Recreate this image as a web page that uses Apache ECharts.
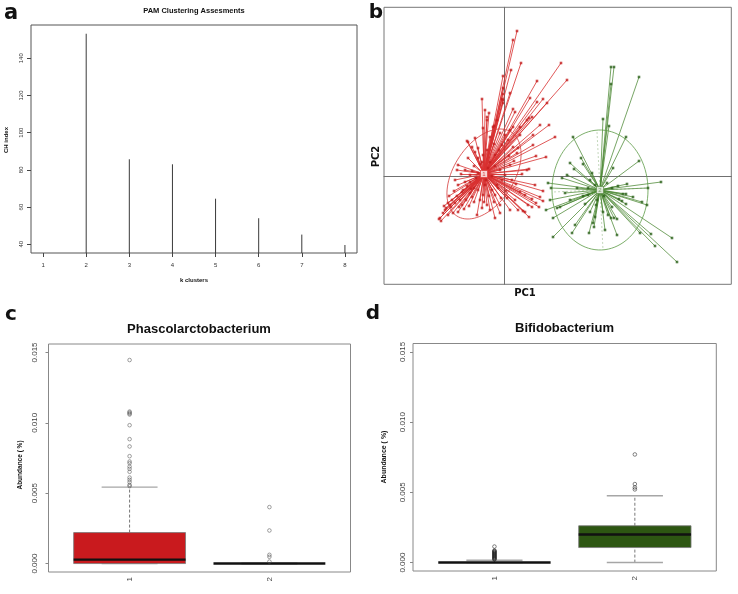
<!DOCTYPE html>
<html><head><meta charset="utf-8">
<script src="https://cdn.jsdelivr.net/npm/echarts@6/dist/echarts.min.js"></script>
<style>html,body{margin:0;padding:0;background:#fff}#c{width:738px;height:594px}</style>
</head><body><div id="c"></div>
<script>
// ---------- Panel a: PAM clustering assessment ----------
const kClusters = [1, 2, 3, 4, 5, 6, 7, 8];
const chIndex = [null, 153.2, 85.7, 83.0, 64.5, 54.0, 45.2, 39.6];
const aYTicks = [40, 60, 80, 100, 120, 140];

// ---------- Panel b: cluster plot (PC1 / PC2) ----------
const redCenter = [-2.0, 0.2];
const greenCenter = [9.6, -1.4];
const redPoints = [[1.3,14.5],[0.9,13.6],[1.7,11.3],[0.7,10.6],[5.7,11.3],[6.3,9.6],[3.3,9.5],[-0.1,10.0],[-0.1,8.8],[0.6,8.3],[2.6,7.8],[3.9,7.7],[3.3,7.4],[4.3,7.3],[-2.2,7.7],[-0.2,7.7],[0.9,6.7],[1.1,6.4],[-1.9,6.6],[-1.5,6.3],[2.5,5.8],[-0.1,7.3],[4.5,5.1],[5.1,3.9],[3.2,2.0],[2.5,0.7],[3.9,-2.5],[3.5,-3.1],[2.5,-4.1],[1.9,-3.5],[-6.5,-4.3],[-6.3,-4.5],[-0.1,8.2],[4.2,1.9],[3.1,-0.9],[3.9,-1.5],[3.6,-2.1],[2.3,0.6],[-3.7,3.5],[-4.7,0.6],[-4.9,-0.4],[-5.6,-2.7],[-6.4,-4.2],[-6.1,-3.7],[-5.1,-3.7],[-4.6,-3.6],[-2.7,-3.9],[-1.4,-3.4],[-0.4,-2.9],[0.3,-2.2],[1.4,-3.4],[2.1,-3.6],[2.8,-3.1],[0.9,4.9],[0.1,4.1],[1.4,2.8],[-2.9,3.8],[-2.6,2.8],[-3.6,1.8],[-4.6,1.1],[-3.9,-0.6],[-4.2,-1.6],[-3.2,-2.1],[-2.1,-1.9],[-1.2,-1.4],[-0.7,-0.9],[0.8,-0.4],[1.6,-1.6],[-1.4,1.4],[-0.9,2.1],[-0.2,3.1],[-1.7,2.6],[-2.2,1.4],[0.6,1.1],[0.1,0.1],[-5.9,-3.4],[-5.4,-2.9],[-5.2,-2.4],[-4.7,-2.0],[-4.4,-2.4],[-4.1,-1.4],[-3.7,-1.0],[-3.4,-0.6],[-5.6,-3.9],[-4.2,-2.9],[-3.8,-2.4],[-3.4,-1.7],[-3.0,-1.2],[-2.8,-0.2],[-3.4,0.1],[-3.9,0.6],[-3.0,1.0],[-2.6,1.8],[-2.1,2.1],[-1.6,0.8],[-1.2,0.0],[-1.9,-0.9],[-2.6,-1.4],[-2.4,-2.4],[-1.7,-2.9],[-0.9,-1.9],[-0.6,-1.2],[-0.2,-0.4],[-0.4,0.6],[-0.9,1.0],[2.3,5.6],[1.6,4.9],[-0.7,5.6],[-1.1,4.9],[-1.4,3.9],[-0.4,4.3],[0.4,3.6],[0.9,2.9],[1.3,2.3],[-3.2,2.9],[-3.6,3.4],[-2.9,2.4],[-2.1,4.8],[-1.7,5.9],[2.9,3.1],[2.1,-1.9],[2.8,-2.3],[3.2,-2.7],[2.4,-2.9],[1.1,-2.4],[0.6,-3.4],[-0.4,-3.7],[-0.9,-4.2],[-4.6,-0.9],[-5.0,-1.5],[-5.5,-2.0],[-6.0,-3.0],[-5.8,-3.2],[-5.3,-3.1],[-4.9,-2.7],[-4.5,-3.1],[-4.0,-3.3],[-3.5,-3.0],[-3.0,-2.6],[-2.2,-3.2],[-1.0,-2.6],[-4.3,0.2],[-3.2,0.5],[-2.6,0.3],[-1.8,-0.4],[-2.4,1.2],[-1.0,3.2],[-0.5,2.6],[0.5,2.0],[1.0,1.5],[1.8,0.2],[1.2,-0.8],[0.2,-1.5],[-0.3,-2.2],[-1.5,-2.0],[-2.0,-2.6],[-3.3,-1.3],[-1.0,5.0],[-1.7,5.6],[-0.1,7.6],[2.8,5.9],[3.6,5.1],[2.9,4.1],[1.6,4.1],[0.6,4.6]];
const greenPoints = [[10.7,10.9],[11.0,10.9],[10.7,9.2],[13.5,9.9],[9.9,5.7],[10.5,5.0],[6.9,3.9],[12.2,3.9],[7.7,1.8],[7.9,1.2],[6.6,1.3],[13.5,1.5],[10.9,0.8],[7.0,0.7],[8.8,0.3],[5.8,-0.2],[6.3,0.1],[4.7,-1.2],[7.3,-1.2],[8.4,-1.2],[12.3,-0.8],[15.7,-0.6],[14.4,-1.2],[11.9,-1.8],[12.2,-1.8],[11.5,-2.3],[11.8,-2.5],[13.8,-2.6],[14.3,-2.9],[12.2,-2.8],[4.6,-2.4],[5.6,-3.1],[5.3,-3.2],[4.2,-3.4],[4.9,-4.2],[8.1,-2.8],[8.6,-3.6],[9.1,-4.1],[8.9,-4.7],[9.0,-5.1],[8.5,-5.7],[7.1,-4.9],[6.8,-5.7],[4.9,-6.1],[10.1,-5.4],[10.4,-3.9],[10.7,-4.2],[11.0,-4.2],[11.3,-4.3],[11.3,-5.9],[10.8,-3.1],[13.6,-5.7],[14.7,-5.8],[15.1,-7.0],[16.8,-6.2],[17.3,-8.6],[9.3,-2.4],[9.9,-3.6],[12.9,-2.1],[4.4,-0.7],[8.6,-0.4],[9.1,-0.9],[10.3,-0.7],[10.8,-1.2],[8.4,-1.9],[10.0,-2.0],[9.2,-2.9],[7.9,-2.0],[11.4,-1.0],[6.1,-1.7],[6.6,-2.4]];
const greenDashedEnds = [[9.3,4.4],[9.9,-7.4],[4.9,-1.6],[14.4,-1.2]];
// ellipse: centre x, centre y, semi-axis a, semi-axis b, angle (deg)
const redEllipse = [-2.0, 0.2, 5.0, 3.0, 57];
const greenEllipse = [9.6, -1.4, 4.8, 6.0, 0];

// ---------- Panels c / d: boxplots ----------
const groupTicks = [1, 2];
const abundanceTicks = [0, 0.005, 0.010, 0.015];
// [lower whisker, Q1, median, Q3, upper whisker]
const phascoStats = [[0, 0, 0.00028, 0.0022, 0.00543], [0, 0, 0, 0, 0]];
const phascoOut1 = [0.01446,0.0108,0.01073,0.01066,0.01059,0.00983,0.00884,0.00832,0.00763,0.00725,0.00713,0.00689,0.00673,0.00652,0.00611,0.00595,0.00579,0.00559,0.0055];
const phascoOut2 = [0.00401, 0.00235, 0.00062, 0.00048, 0.00014];
const bifidoStats = [[0, 0, 0, 0, 0.00017], [0, 0.00107, 0.0020, 0.00262, 0.00476]];
const bifidoOut1 = [0.00114,0.00086,0.00082,0.00078,0.00074,0.0007,0.00066,0.00062,0.00058,0.00054,0.0005,0.00046,0.00042,0.00038,0.00034,0.0003,0.00026,0.00022];
const bifidoOut2 = [0.0077, 0.00559, 0.00535, 0.00521];

const chart = echarts.init(document.getElementById('c'), null, {renderer: 'canvas'});
const RF = '"Liberation Sans", Arial, sans-serif';
const DF = '"DejaVu Sans", sans-serif';
const aYMin = 35.3, aYMax = 157.9;

function seg(p, q, style) { return {type: 'line', shape: {x1: p[0], y1: p[1], x2: q[0], y2: q[1]}, style: style}; }

function boxRender(fills) {
  return function (params, api) {
    const x = api.value(0), lo = api.value(1), q1 = api.value(2), md = api.value(3), q3 = api.value(4), hi = api.value(5);
    const c = (a, b) => api.coord([a, b]);
    const kids = [];
    const dash = {stroke: '#555', lineWidth: 0.8, lineDash: [3, 2]};
    const cap = {stroke: '#a6a6a6', lineWidth: 1.4};
    if (hi > q3) kids.push(seg(c(x, q3), c(x, hi), dash));
    if (lo < q1) kids.push(seg(c(x, lo), c(x, q1), dash));
    kids.push(seg(c(x - 0.2, hi), c(x + 0.2, hi), cap));
    kids.push(seg(c(x - 0.2, lo), c(x + 0.2, lo), cap));
    if (q3 > q1) {
      const tl = c(x - 0.4, q3), br = c(x + 0.4, q1);
      kids.push({type: 'rect', shape: {x: tl[0], y: tl[1], width: br[0] - tl[0], height: br[1] - tl[1]},
        style: {fill: fills[params.dataIndex], stroke: '#777', lineWidth: 0.8}});
    }
    kids.push(seg(c(x - 0.4, md), c(x + 0.4, md), {stroke: '#111', lineWidth: 2.4}));
    return {type: 'group', children: kids};
  };
}

function boxAxes(gi, yMargin) {
  return {
    x: {gridIndex: gi, type: 'value', min: 0.42, max: 2.58,
      axisLine: {show: false}, splitLine: {show: false},
      axisTick: {show: false},
      axisLabel: {customValues: groupTicks, rotate: 90, margin: 5, fontSize: 8, color: '#444', fontFamily: RF}},
    y: {gridIndex: gi, type: 'value', min: -0.0006, max: 0.0156,
      axisLine: {show: false}, splitLine: {show: false},
      axisTick: {customValues: abundanceTicks, length: 3, lineStyle: {color: '#888'}},
      axisLabel: {customValues: abundanceTicks, rotate: 90, margin: yMargin, fontSize: 8, color: '#444', fontFamily: RF,
        formatter: v => Number(v).toFixed(3)}}
  };
}
const cAx = boxAxes(2, 9.5), dAx = boxAxes(3, 6.5);

function ellipseRender(colors) {
  return function (params, api) {
    const cx = api.value(0), cy = api.value(1), a = api.value(2), b = api.value(3), th = api.value(4) * Math.PI / 180;
    const pts = [];
    for (let i = 0; i <= 90; i++) {
      const t = i / 90 * 2 * Math.PI;
      const ex = cx + a * Math.cos(t) * Math.cos(th) - b * Math.sin(t) * Math.sin(th);
      const ey = cy + a * Math.cos(t) * Math.sin(th) + b * Math.sin(t) * Math.cos(th);
      pts.push(api.coord([ex, ey]));
    }
    return {type: 'polyline', shape: {points: pts}, style: {stroke: colors[params.dataIndex], lineWidth: 0.8, fill: null}};
  };
}

const text = (t, x, y, font, opts) => Object.assign({type: 'text', x: x, y: y, silent: true,
  style: {text: t, font: font, fill: '#111', align: 'center', verticalAlign: 'middle'}}, opts || {});

const option = {
  animation: false,
  backgroundColor: '#fff',
  grid: [
    {left: 31, top: 25, width: 326, height: 228, show: true, borderColor: '#555', borderWidth: 1, backgroundColor: 'transparent'},
    {left: 384, top: 7.3, width: 347.3, height: 277, show: true, borderColor: '#777', borderWidth: 1, backgroundColor: 'transparent'},
    {left: 48.5, top: 344, width: 302, height: 228, show: true, borderColor: '#888', borderWidth: 1, backgroundColor: 'transparent'},
    {left: 413, top: 343.5, width: 303.3, height: 227.5, show: true, borderColor: '#888', borderWidth: 1, backgroundColor: 'transparent'}
  ],
  xAxis: [
    {gridIndex: 0, type: 'value', min: 0.72, max: 8.28, axisLine: {show: false}, splitLine: {show: false},
      axisTick: {customValues: kClusters, length: 4, lineStyle: {color: '#444'}},
      axisLabel: {customValues: kClusters, margin: 9, fontSize: 6, color: '#333', fontFamily: RF}},
    {gridIndex: 1, type: 'value', min: -12.0, max: 22.73, axisLine: {show: true, onZero: true, lineStyle: {color: '#707070', width: 1}},
      axisTick: {show: false}, axisLabel: {show: false}, splitLine: {show: false}},
    cAx.x, dAx.x
  ],
  yAxis: [
    {gridIndex: 0, type: 'value', min: aYMin, max: aYMax, axisLine: {show: false}, splitLine: {show: false},
      axisTick: {customValues: aYTicks, length: 4, lineStyle: {color: '#444'}},
      axisLabel: {customValues: aYTicks, rotate: 90, margin: 7, fontSize: 6, color: '#333', fontFamily: RF}},
    {gridIndex: 1, type: 'value', min: -10.83, max: 16.87, axisLine: {show: true, onZero: true, lineStyle: {color: '#707070', width: 1}},
      axisTick: {show: false}, axisLabel: {show: false}, splitLine: {show: false}},
    cAx.y, dAx.y
  ],
  series: [
    // a
    {type: 'custom', xAxisIndex: 0, yAxisIndex: 0, silent: true,
      data: kClusters.map((k, i) => [k, chIndex[i]]).filter(d => d[1] != null),
      encode: {x: 0, y: 1},
      renderItem: (params, api) => seg(api.coord([api.value(0), api.value(1)]), api.coord([api.value(0), aYMin]),
        {stroke: '#3a3a3a', lineWidth: 1})},
    // b spider lines
    {type: 'lines', coordinateSystem: 'cartesian2d', xAxisIndex: 1, yAxisIndex: 1, silent: true, z: 2,
      lineStyle: {color: '#d83030', width: 0.85, opacity: 0.95},
      data: redPoints.map(p => ({coords: [redCenter, p]}))},
    {type: 'lines', coordinateSystem: 'cartesian2d', xAxisIndex: 1, yAxisIndex: 1, silent: true, z: 2,
      lineStyle: {color: '#4a8832', width: 0.8, opacity: 0.95},
      data: greenPoints.map(p => ({coords: [greenCenter, p]}))},
    {type: 'lines', coordinateSystem: 'cartesian2d', xAxisIndex: 1, yAxisIndex: 1, silent: true, z: 2,
      lineStyle: {color: '#6a9a55', width: 0.8, type: [2, 2]},
      data: greenDashedEnds.map(p => ({coords: [greenCenter, p]}))},
    {type: 'custom', xAxisIndex: 1, yAxisIndex: 1, silent: true, z: 2,
      data: [redEllipse, greenEllipse], encode: {x: 0, y: 1},
      renderItem: ellipseRender(['#d63a3a', '#5c9a45'])},
    {type: 'scatter', xAxisIndex: 1, yAxisIndex: 1, silent: true, z: 3, symbol: 'rect', symbolSize: 2.6,
      itemStyle: {color: '#c41e1e'}, data: redPoints},
    {type: 'scatter', xAxisIndex: 1, yAxisIndex: 1, silent: true, z: 3, symbol: 'rect', symbolSize: 2.6,
      itemStyle: {color: '#2c621a'}, data: greenPoints},
    {type: 'scatter', xAxisIndex: 1, yAxisIndex: 1, silent: true, z: 4, symbol: 'rect', symbolSize: 7,
      itemStyle: {color: '#fff', borderColor: '#d33', borderWidth: 0.8},
      label: {show: true, position: 'inside', formatter: '1', fontSize: 6, color: '#c22', fontFamily: RF},
      data: [redCenter]},
    {type: 'scatter', xAxisIndex: 1, yAxisIndex: 1, silent: true, z: 4, symbol: 'rect', symbolSize: 7,
      itemStyle: {color: '#fff', borderColor: '#5a8a45', borderWidth: 0.8},
      label: {show: true, position: 'inside', formatter: '2', fontSize: 6, color: '#5a8a45', fontFamily: RF},
      data: [greenCenter]},
    // c
    {type: 'custom', xAxisIndex: 2, yAxisIndex: 2, silent: true,
      data: phascoStats.map((s, i) => [groupTicks[i]].concat(s)), encode: {x: 0, y: [1, 2, 3, 4, 5]},
      renderItem: boxRender(['#c91a1e', '#c91a1e'])},
    {type: 'scatter', xAxisIndex: 2, yAxisIndex: 2, silent: true, symbol: 'circle', symbolSize: 3.6,
      itemStyle: {color: 'rgba(0,0,0,0)', borderColor: '#555', borderWidth: 0.7},
      data: phascoOut1.map(v => [1, v]).concat(phascoOut2.map(v => [2, v]))},
    // d
    {type: 'custom', xAxisIndex: 3, yAxisIndex: 3, silent: true,
      data: bifidoStats.map((s, i) => [groupTicks[i]].concat(s)), encode: {x: 0, y: [1, 2, 3, 4, 5]},
      renderItem: boxRender(['#2d5612', '#2d5612'])},
    {type: 'scatter', xAxisIndex: 3, yAxisIndex: 3, silent: true, symbol: 'circle', symbolSize: 3.6,
      itemStyle: {color: 'rgba(0,0,0,0)', borderColor: '#222', borderWidth: 0.7},
      data: bifidoOut1.map(v => [1, v]).concat(bifidoOut2.map(v => [2, v]))}
  ],
  graphic: [
    text('a', 11, 14, 'bold 21px ' + DF),
    text('b', 376, 13, 'bold 20px ' + DF),
    text('c', 11, 315, 'bold 20px ' + DF),
    text('d', 373, 314, 'bold 20px ' + DF),
    text('PAM Clustering Assesments', 194, 11, 'bold 7.5px ' + RF),
    text('k clusters', 194, 280, 'bold 6px ' + RF),
    text('CH index', 6.5, 140, 'bold 6px ' + RF, {rotation: Math.PI / 2}),
    text('PC1', 525, 293, 'bold 10px ' + DF),
    text('PC2', 376.5, 156.5, 'bold 10px ' + DF, {rotation: Math.PI / 2}),
    text('Phascolarctobacterium', 199, 329, 'bold 13px ' + RF),
    text('Bifidobacterium', 564.5, 328, 'bold 13px ' + RF),
    text('Abundance ( %)', 20.5, 465, 'bold 6.5px ' + RF, {rotation: Math.PI / 2}),
    text('Abundance ( %)', 384.5, 457, 'bold 7px ' + RF, {rotation: Math.PI / 2})
  ]
};
chart.setOption(option);
</script>
</body></html>
